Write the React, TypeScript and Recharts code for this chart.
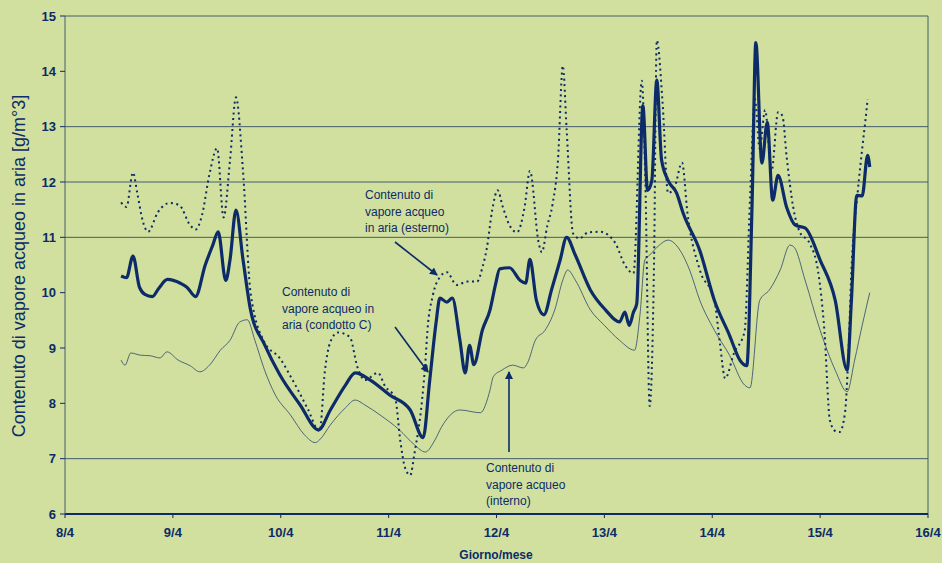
import React from 'react'
import { LineChart, Line, XAxis, YAxis, ReferenceLine } from 'recharts'

// [day of April, g/m3]
const condotto: [number, number][] = [
  [8.52, 10.3], [8.57, 10.27], [8.63, 10.66], [8.69, 10.1], [8.74, 9.97], [8.81, 9.93], [8.87, 10.08],
  [8.95, 10.24], [9.07, 10.17], [9.13, 10.1], [9.21, 9.93], [9.3, 10.5], [9.37, 10.86], [9.42, 11.1],
  [9.49, 10.22], [9.53, 10.6], [9.585, 11.49], [9.65, 10.6], [9.72, 9.69], [9.85, 9.06], [9.99, 8.52],
  [10.18, 7.97], [10.35, 7.52], [10.46, 7.88], [10.6, 8.33], [10.69, 8.55], [10.83, 8.42], [11.01, 8.15],
  [11.2, 7.88], [11.32, 7.38], [11.38, 8.4], [11.44, 9.46], [11.475, 9.9], [11.54, 9.83], [11.59, 9.9],
  [11.66, 9.15], [11.71, 8.55], [11.75, 9.05], [11.79, 8.7], [11.87, 9.33], [11.94, 9.69], [11.99, 10.14],
  [12.03, 10.43], [12.12, 10.45], [12.22, 10.22], [12.27, 10.17], [12.31, 10.6], [12.37, 9.86], [12.44, 9.6],
  [12.51, 10.05], [12.59, 10.59], [12.65, 11.0], [12.73, 10.68], [12.87, 10.05], [13.01, 9.69], [13.14, 9.47],
  [13.19, 9.65], [13.23, 9.41], [13.27, 9.65], [13.3, 9.8], [13.357, 13.38], [13.4, 11.85], [13.44, 12.03],
  [13.486, 13.84], [13.53, 12.4], [13.59, 12.03], [13.67, 11.8], [13.73, 11.44], [13.885, 10.76], [14.02, 9.86],
  [14.16, 9.23], [14.26, 8.77], [14.32, 8.68], [14.37, 11.67], [14.404, 14.52], [14.46, 12.34], [14.51, 13.08],
  [14.56, 11.67], [14.61, 12.12], [14.69, 11.54], [14.77, 11.22], [14.86, 11.17], [15.0, 10.59], [15.14, 9.86],
  [15.25, 8.6], [15.29, 9.86], [15.34, 11.76], [15.39, 11.75], [15.44, 12.48], [15.46, 12.27],
]

const esterno: [number, number][] = [
  [8.52, 11.63], [8.57, 11.55], [8.63, 12.17], [8.67, 11.8], [8.72, 11.3], [8.77, 11.1], [8.86, 11.45],
  [8.97, 11.62], [9.06, 11.58], [9.16, 11.22], [9.21, 11.14], [9.27, 11.4], [9.34, 12.15], [9.41, 12.61],
  [9.47, 11.36], [9.53, 12.4], [9.585, 13.53], [9.65, 12.2], [9.72, 10.0], [9.85, 9.1], [9.99, 8.82],
  [10.11, 8.42], [10.16, 8.24], [10.25, 7.9], [10.36, 7.5], [10.41, 8.6], [10.46, 9.11], [10.53, 9.28],
  [10.64, 9.2], [10.71, 8.66], [10.78, 8.42], [10.9, 8.55], [10.97, 8.3], [11.06, 8.1], [11.11, 7.3],
  [11.15, 6.85], [11.2, 6.7], [11.24, 7.1], [11.31, 8.06], [11.34, 8.73], [11.36, 9.32], [11.41, 9.95],
  [11.475, 10.28], [11.54, 10.37], [11.63, 10.14], [11.73, 10.2], [11.82, 10.2], [11.87, 10.46], [11.91, 10.8],
  [11.96, 11.49], [12.01, 11.85], [12.06, 11.54], [12.12, 11.22], [12.19, 11.09], [12.26, 11.54], [12.31, 12.2],
  [12.39, 10.91], [12.42, 10.73], [12.47, 11.2], [12.52, 11.6], [12.57, 12.4], [12.615, 14.1], [12.65, 12.95],
  [12.71, 11.07], [12.77, 10.98], [12.85, 11.09], [12.96, 11.1], [13.1, 10.9], [13.19, 10.5], [13.27, 10.35],
  [13.347, 13.83], [13.38, 12.0], [13.42, 7.95], [13.46, 10.5], [13.486, 14.56], [13.54, 13.42], [13.59, 11.8],
  [13.65, 11.9], [13.72, 12.35], [13.77, 11.44], [13.885, 10.41], [14.02, 9.86], [14.07, 9.1], [14.12, 8.45],
  [14.2, 8.9], [14.3, 9.3], [14.35, 11.7], [14.395, 13.5], [14.44, 12.6], [14.49, 13.3], [14.55, 12.2],
  [14.61, 13.26], [14.65, 13.2], [14.69, 12.45], [14.75, 11.55], [14.81, 11.1], [14.9, 10.9], [14.98, 10.4],
  [15.04, 9.3], [15.09, 7.7], [15.14, 7.5], [15.18, 7.48], [15.23, 7.82], [15.26, 8.8], [15.29, 10.4],
  [15.35, 11.85], [15.39, 12.6], [15.43, 13.3], [15.44, 13.5],
]

const interno: [number, number][] = [
  [8.52, 8.78], [8.556, 8.69], [8.61, 8.91], [8.7, 8.87], [8.79, 8.86], [8.88, 8.82], [8.945, 8.93],
  [9.05, 8.78], [9.16, 8.68], [9.25, 8.57], [9.34, 8.69], [9.44, 8.96], [9.53, 9.14], [9.62, 9.47],
  [9.69, 9.51], [9.76, 9.14], [9.85, 8.6], [9.95, 8.15], [10.09, 7.79], [10.22, 7.43], [10.32, 7.29],
  [10.36, 7.34], [10.46, 7.61], [10.6, 7.92], [10.69, 8.06], [10.78, 7.97], [10.92, 7.79], [11.1, 7.52],
  [11.24, 7.25], [11.34, 7.12], [11.43, 7.34], [11.49, 7.57], [11.66, 7.88], [11.85, 7.83], [11.94, 8.24],
  [11.97, 8.48], [12.05, 8.6], [12.15, 8.69], [12.25, 8.64], [12.29, 8.74], [12.36, 9.14], [12.45, 9.32],
  [12.54, 9.69], [12.615, 10.23], [12.66, 10.41], [12.73, 10.23], [12.87, 9.69], [13.0, 9.41], [13.14, 9.14],
  [13.28, 8.96], [13.33, 9.6], [13.375, 10.59], [13.42, 10.68], [13.51, 10.86], [13.59, 10.95], [13.7, 10.77],
  [13.79, 10.41], [13.885, 9.86], [14.02, 9.32], [14.16, 8.87], [14.3, 8.33], [14.35, 8.28], [14.44, 9.86],
  [14.53, 10.05], [14.63, 10.41], [14.72, 10.86], [14.76, 10.82], [14.86, 10.23], [15.0, 9.32], [15.14, 8.6],
  [15.25, 8.21], [15.32, 8.78], [15.39, 9.41], [15.46, 10.0],
]

const xTicks = [8, 9, 10, 11, 12, 13, 14, 15, 16]
const yTicks = [6, 7, 8, 9, 10, 11, 12, 13, 14, 15]
const gridLines = [7, 11, 12, 13, 15]

const toRows = (pts: [number, number][]) => pts.map(([d, v]) => ({ d, v }))

const BG = '#d1e09e'
const NAVY = '#0c2b68'
const GRID = '#445c6e'
const FONT = '"Liberation Sans", Arial, sans-serif'

const Note = ({ x, y, lines }: { x: number; y: number; lines: string[] }) => (
  <text x={x} y={y} fontSize={12} fill={NAVY} fontFamily={FONT}>
    {lines.map((l, i) => (
      <tspan key={i} x={x} dy={i === 0 ? 0 : 16.5}>{l}</tspan>
    ))}
  </text>
)

export default function App() {
  return (
    <div style={{ position: 'fixed', left: 0, top: 0, width: 942, height: 563, background: BG, fontFamily: FONT }}>
      <LineChart width={942} height={563} margin={{ top: 16, right: 14, bottom: 0, left: 0 }}>
        <XAxis
          type="number"
          dataKey="d"
          domain={[8, 16]}
          ticks={xTicks}
          tickFormatter={d => `${d}/4`}
          height={49}
          tickSize={4}
          tickMargin={10}
          tick={{ fill: NAVY, fontSize: 13, fontWeight: 'bold', fontFamily: FONT }}
          axisLine={{ stroke: NAVY, strokeWidth: 2 }}
          tickLine={{ stroke: NAVY }}
          allowDataOverflow
        />
        <YAxis
          type="number"
          domain={[6, 15]}
          ticks={yTicks}
          width={65}
          tickSize={5}
          tickMargin={4}
          tick={{ fill: NAVY, fontSize: 13, fontWeight: 'bold', fontFamily: FONT }}
          axisLine={{ stroke: GRID }}
          tickLine={{ stroke: NAVY }}
        />
        {gridLines.map(g => (
          <ReferenceLine key={g} y={g} stroke={GRID} strokeWidth={1} />
        ))}
        <ReferenceLine x={16} stroke={GRID} strokeWidth={1} />
        <Line data={toRows(interno)} dataKey="v" type="monotone" stroke="#2c4670" strokeWidth={0.8} dot={false} isAnimationActive={false} />
        <Line data={toRows(esterno)} dataKey="v" type="monotone" stroke={NAVY} strokeWidth={2} strokeDasharray="2 3.5" dot={false} isAnimationActive={false} />
        <Line data={toRows(condotto)} dataKey="v" type="monotone" stroke={NAVY} strokeWidth={3.2} dot={false} isAnimationActive={false} />
      </LineChart>
      <svg width={942} height={563} style={{ position: 'absolute', left: 0, top: 0, pointerEvents: 'none' }}>
        <defs>
          <marker id="arr" markerWidth="8" markerHeight="8" refX="7" refY="4" orient="auto" markerUnits="userSpaceOnUse">
            <path d="M0,0 L8,4 L0,8 z" fill={NAVY} />
          </marker>
        </defs>
        <text
          transform="translate(25,266) rotate(-90)"
          textAnchor="middle"
          fontSize={18}
          fill={NAVY}
          fontFamily={FONT}
        >
          Contenuto di vapore acqueo in aria [g/m°3]
        </text>
        <text x={496} y={559} textAnchor="middle" fontSize={12} fontWeight="bold" fill={NAVY} fontFamily={FONT}>
          Giorno/mese
        </text>
        <Note x={365} y={199} lines={['Contenuto di', 'vapore acqueo', 'in aria (esterno)']} />
        <line x1={395} y1={242} x2={437} y2={275} stroke={NAVY} strokeWidth={1.6} markerEnd="url(#arr)" />
        <Note x={282} y={296} lines={['Contenuto di', 'vapore acqueo in', 'aria (condotto C)']} />
        <line x1={395} y1={327} x2={428} y2={372} stroke={NAVY} strokeWidth={1.6} markerEnd="url(#arr)" />
        <Note x={486} y={472} lines={['Contenuto di', 'vapore acqueo', '(interno)']} />
        <line x1={509} y1={452} x2={509} y2={372} stroke={NAVY} strokeWidth={1.6} markerEnd="url(#arr)" />
      </svg>
    </div>
  )
}
